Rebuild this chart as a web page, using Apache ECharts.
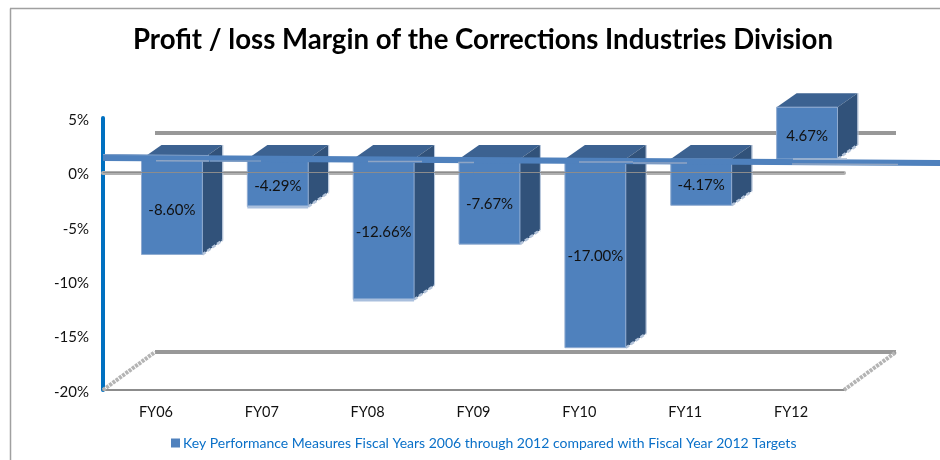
<!DOCTYPE html>
<html><head><meta charset="utf-8">
<style>html,body{margin:0;padding:0;background:#fff}#c{width:940px;height:460px}</style>
<script src="https://cdn.jsdelivr.net/npm/echarts@6/dist/echarts.min.js"></script>
</head><body><div id="c"></div>
<script>
const categories = ['FY06','FY07','FY08','FY09','FY10','FY11','FY12'];
const margins = [-8.60,-4.29,-12.66,-7.67,-17.00,-4.17,4.67];
const seriesName = 'Key Performance Measures Fiscal Years 2006 through 2012 compared with Fiscal Year 2012 Targets';
const titleText = 'Profit / loss Margin of the Corrections Industries Division';

const FONT = 'Lato';
const DX = 20, DY = 14;
const chart = echarts.init(document.getElementById('c'), null, {renderer:'canvas'});

function renderBar(params, api){
  const i = api.value(0), v = api.value(1);
  const base = api.coord([i,0]), end = api.coord([i,v]);
  const w = api.size([1,0])[0]*0.575;
  const l = base[0]-w/2, r = base[0]+w/2;
  const top = Math.min(base[1],end[1]), bot = Math.max(base[1],end[1]);
  const kids = [
    {type:'polygon',shape:{points:[[l,top],[l+DX,top-DY],[r+DX,top-DY],[r,top]]},style:{fill:'#3c6291'}},
    {type:'polygon',shape:{points:[[r,top],[r+DX,top-DY],[r+DX,bot-DY],[r,bot]]},style:{fill:'#31527a'}},
    {type:'line',shape:{x1:r+DX+.5,y1:top-DY,x2:r+DX+.5,y2:bot-DY},style:{stroke:'#b4c4da',lineWidth:1}},
    {type:'line',shape:{x1:r,y1:bot,x2:r+DX,y2:bot-DY},style:{stroke:'#b4c4da',lineWidth:2.5,lineDash:[4,2]}},
    {type:'rect',shape:{x:l,y:top,width:w,height:bot-top},style:{fill:'#4f81bd',stroke:'#8fabd0',lineWidth:1}}
  ];
  if(i===1||i===2){
    kids.push({type:'rect',shape:{x:l,y:bot-1,width:w,height:3},style:{fill:'#a9bfdd'}});
  }
  kids.push({type:'text',style:{x:(l+r)/2,y:(top+bot)/2+3,text:v.toFixed(2)+'%',fill:'#111',
    font:'15px '+FONT,textAlign:'center',textVerticalAlign:'middle'}});
  return {type:'group',children:kids};
}

const gridLine = (x1,y1,x2,y2,stroke,lineWidth,z,lineDash)=>({type:'line',silent:true,z,
  shape:{x1,y1,x2,y2},style:{stroke,lineWidth,lineDash}});

chart.setOption({
  animation:false,
  backgroundColor:'#fff',
  title:{text:titleText,left:478,top:21,textAlign:'center',
    textStyle:{fontFamily:FONT,fontWeight:'bold',fontSize:27.6,color:'#000'}},
  legend:{left:166,top:431,itemWidth:9,itemHeight:9,itemGap:0,selectedMode:false,
    data:[{name:seriesName,icon:'rect',itemStyle:{color:'#4f81bd'}}],
    textStyle:{fontFamily:FONT,fontSize:14,color:'#0a70c8',padding:[1,0,0,-2]}},
  grid:[
    {left:103,right:96,top:118,bottom:70},
    {left:155,right:44,top:133,bottom:108},
    {left:119,right:80,top:103.5,bottom:79}
  ],
  xAxis:[
    {gridIndex:0,type:'category',data:categories,position:'bottom',
      axisLine:{onZero:false,lineStyle:{color:'#8c8c8c',width:2}},axisTick:{show:false},
      axisLabel:{fontFamily:FONT,fontSize:14.5,color:'#111',margin:15}},
    {gridIndex:0,type:'category',data:categories,
      axisLine:{onZero:true,lineStyle:{color:'#b0b0b0',width:4}},axisTick:{show:false},axisLabel:{show:false}},
    {gridIndex:1,type:'category',data:categories,show:false},
    {gridIndex:2,type:'category',data:categories,show:false}
  ],
  yAxis:[
    {gridIndex:0,type:'value',min:-20,max:5,interval:5,
      axisLine:{show:true,onZero:false,lineStyle:{color:'#0070c0',width:4}},axisTick:{show:false},splitLine:{show:false},
      axisLabel:{fontFamily:FONT,fontSize:15,color:'#111',margin:14,lineHeight:4,verticalAlign:'top',formatter:'{value}%'}},
    {gridIndex:1,type:'value',min:-20,max:5,interval:25,axisLine:{show:false},axisTick:{show:false},axisLabel:{show:false},
      splitLine:{show:true,lineStyle:{color:'#989898',width:4}}},
    {gridIndex:2,type:'value',min:-20,max:5,show:false}
  ],
  series:[
    {name:seriesName,type:'custom',xAxisIndex:3,yAxisIndex:2,z:5,clip:false,renderItem:renderBar,
      data:margins.map((v,i)=>[i,v]),itemStyle:{color:'#4f81bd'},encode:{x:0,y:1}},
    {type:'line',xAxisIndex:0,yAxisIndex:0,data:[],silent:true,z:8,
      markLine:{silent:true,symbol:'none',label:{show:false},z:8,
        lineStyle:{color:'#8c8c8c',width:1,type:'solid'},data:[{yAxis:0}]}}
  ],
  graphic:[
    gridLine(103,390,155,352,'#b4b4b4',4,1,[3,1]),
    gridLine(844,390,896,352,'#b4b4b4',4,1,[3,1]),
    {type:'polygon',silent:true,z:20,
      shape:{points:[[103,154],[156,155],[940,160],[940,166],[103,161]]},style:{fill:'#4f81bd'}},
    gridLine(103,154.5,209,155.5,'#7f9fc8',1,21),
    gridLine(156,160.8,209,161,'#8fa5c4',1.5,21),
    gridLine(210,161,261,161,'#8fa5c4',1,21),
    gridLine(368,161.5,422,161.5,'#8fa5c4',1.5,21),
    gridLine(458,162.5,474,162.5,'#8fa5c4',1.5,21),
    gridLine(579,162,633,162,'#8fa5c4',1.5,21),
    gridLine(633,163,687,163,'#8fa5c4',1.5,21),
    gridLine(793,159,847,159,'#a6b8d2',1.5,21),
    gridLine(792,164,898,164.5,'#8fa5c4',1.5,21),
    gridLine(10.5,460,10.5,8.5,'#a0a0a0',1.5,0),
    gridLine(10,8.5,940,8.5,'#a0a0a0',1.5,0)
  ]
});
</script></body></html>
